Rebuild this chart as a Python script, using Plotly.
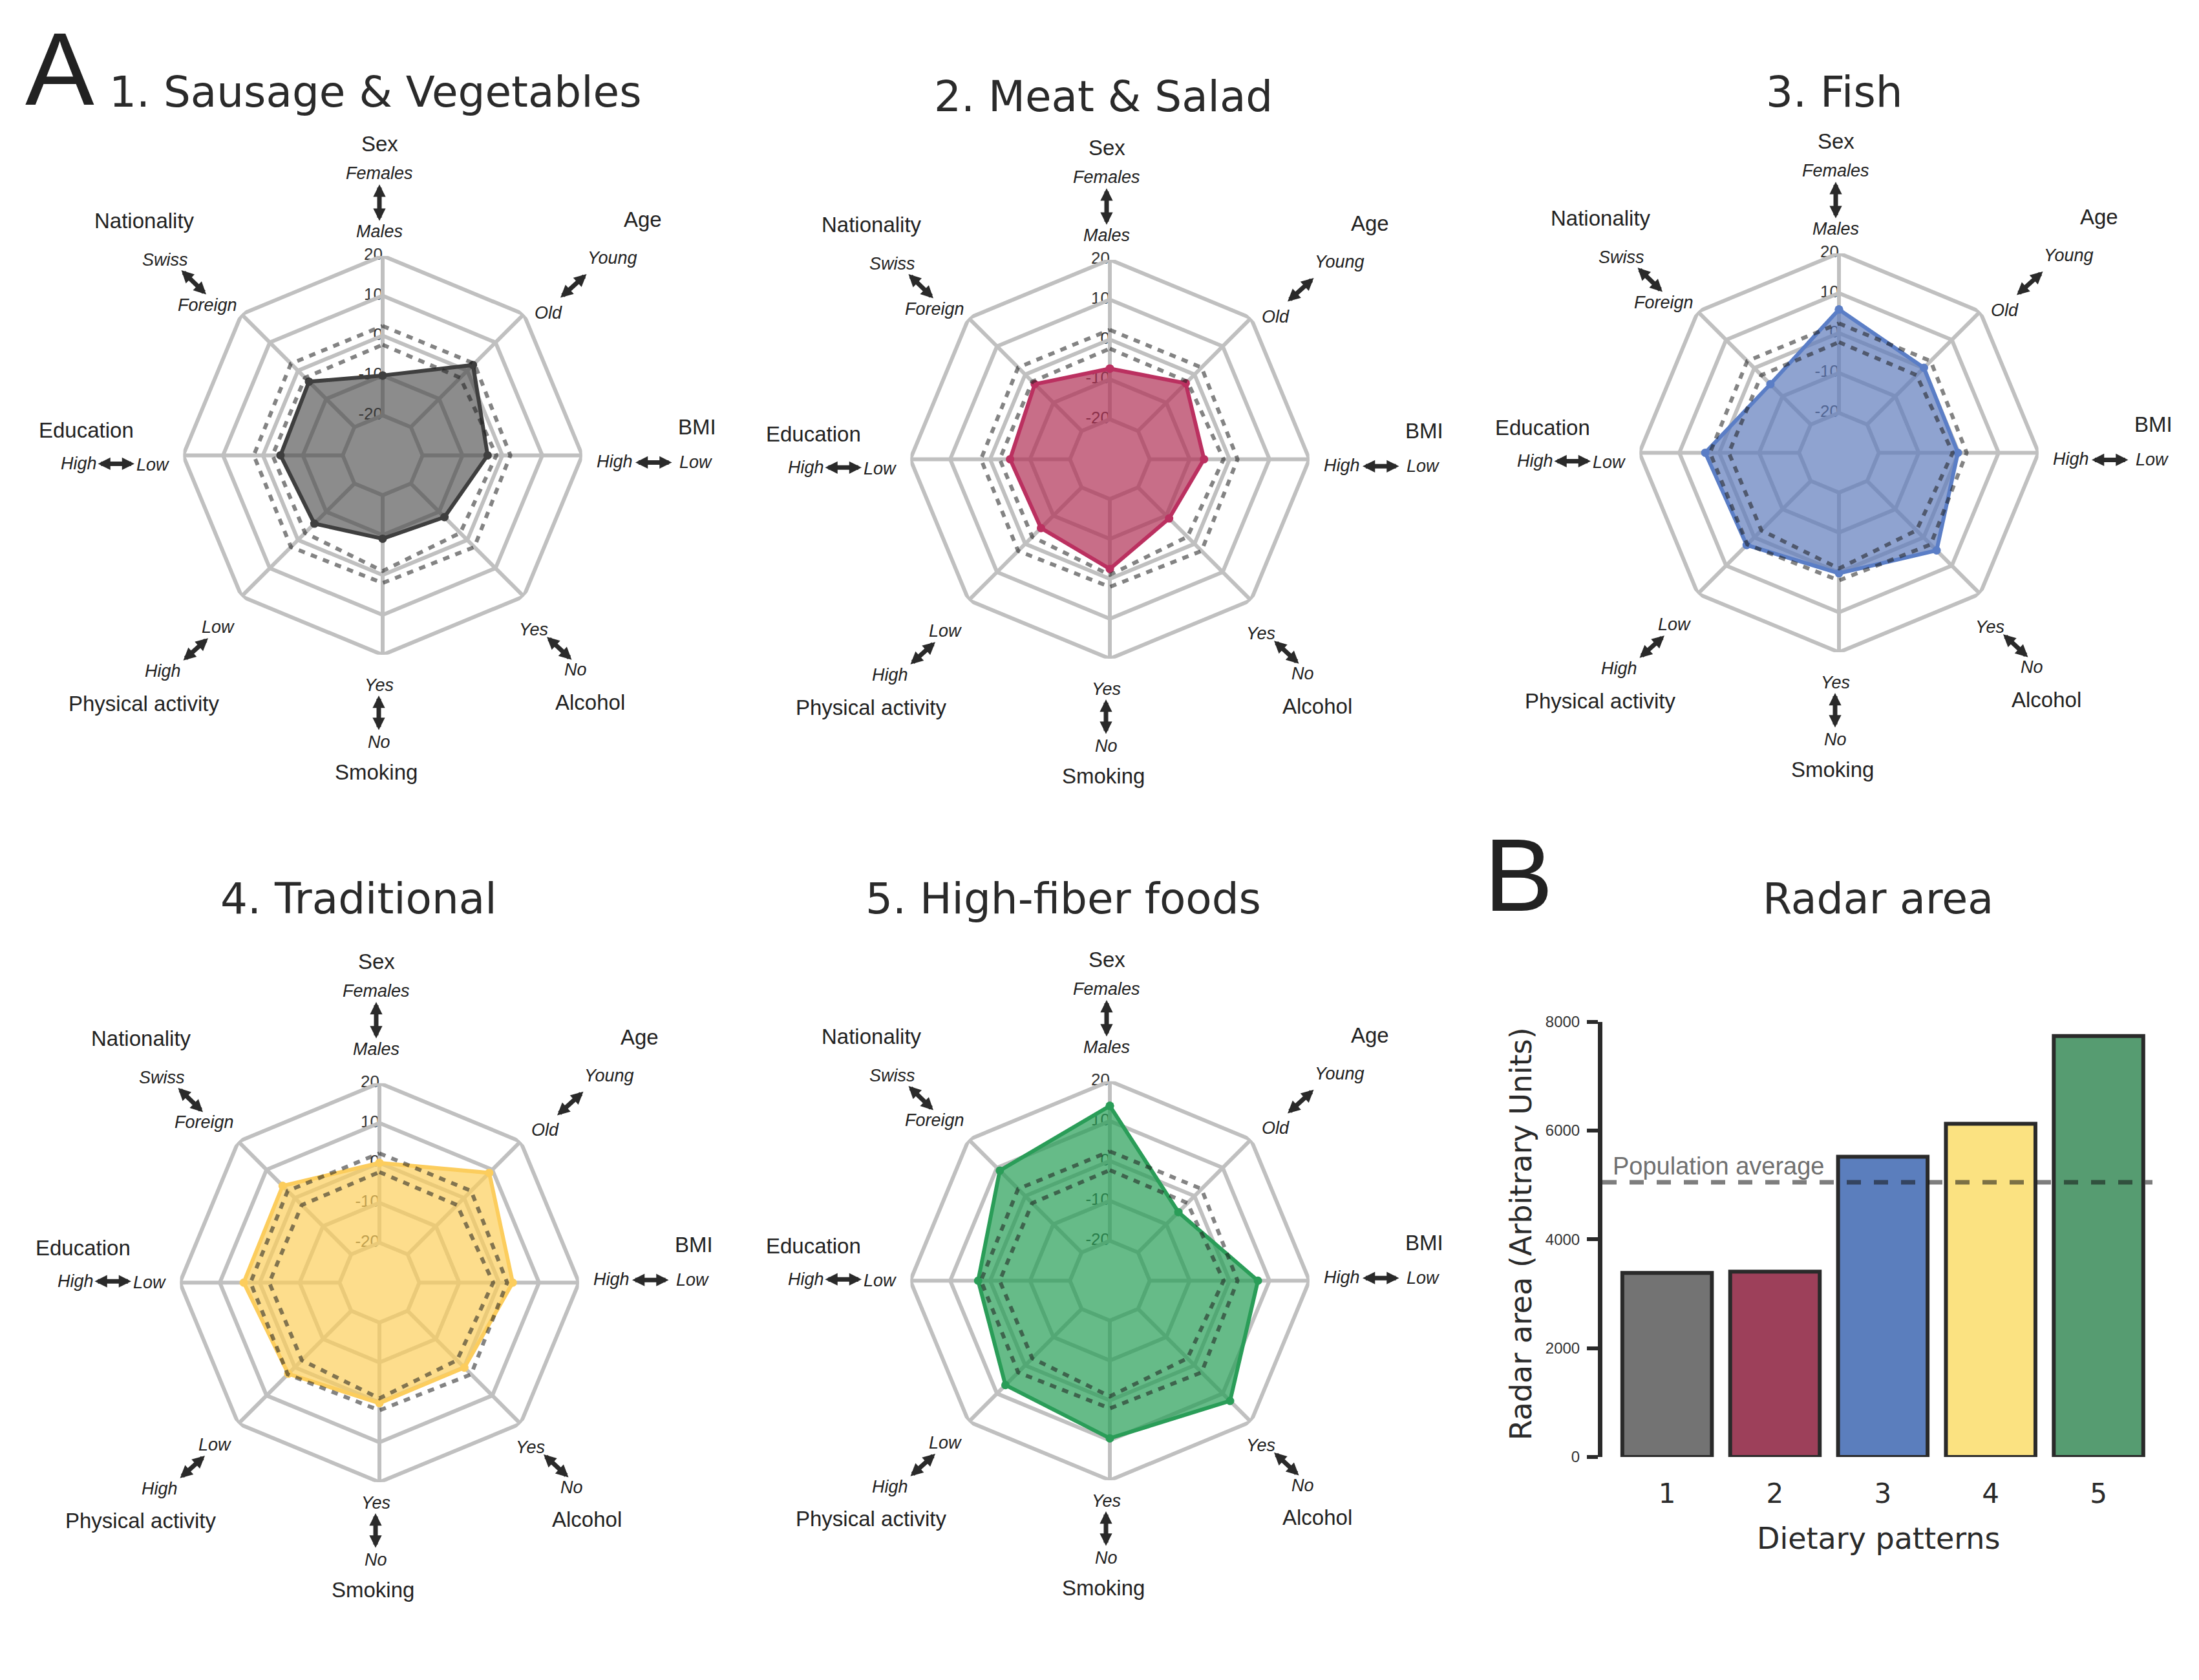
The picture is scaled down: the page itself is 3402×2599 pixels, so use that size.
import plotly.graph_objects as go

W, H = 3402, 2599

# ---------------- data ----------------
axes_names = ["Sex", "Age", "BMI", "Alcohol", "Smoking", "Physical activity", "Education", "Nationality"]
outer_pole = ["Females", "Young", "Low", "No", "No", "High", "High", "Swiss"]
inner_pole = ["Males", "Old", "High", "Yes", "Yes", "Low", "Low", "Foreign"]
pattern_titles = ["1. Sausage & Vegetables", "2. Meat & Salad", "3. Fish", "4. Traditional", "5. High-fiber foods"]

sausage_vegetables = [-10.0, 2.0, -3.7, -8.1, -9.1, -5.8, -4.4, -3.9]
meat_salad = [-7.3, -3.1, -6.4, -9.0, -2.5, -5.6, -5.0, -3.4]
fish = [5.9, 0.1, -0.2, 4.6, 0.2, 2.7, 3.5, -5.7]
traditional = [0.0, 8.9, 3.4, 0.1, 0.2, 2.3, 4.0, 4.3]
high_fiber = [13.8, -5.7, 7.1, 12.6, 9.5, 7.0, 3.0, 9.0]

population_upper = [2.4, 2.5, 2.0, 2.5, 2.0, 2.5, 2.3, 2.5]
population_lower = [-2.3, -2.5, -1.5, -2.5, -1.0, -2.5, -2.4, -2.5]

radial_ticks = [-20, -10, 0, 10, 20]
radial_ticklabels = ["-20", "-10", "0", "10", "20"]
radial_range = [-30, 20]

bar_categories = [1, 2, 3, 4, 5]
bar_ticklabels = ["1", "2", "3", "4", "5"]
radar_area = [3384, 3407, 5518, 6124, 7737]
population_average = 5050
bar_ticks = [0, 2000, 4000, 6000, 8000]

# ---------------- styles / layout ----------------
series = [sausage_vegetables, meat_salad, fish, traditional, high_fiber]
line_colors = ["#3f3f3f", "#bb3060", "#5b7ec6", "#fccd5d", "#2a9d58"]
fill_colors = ["rgba(63,63,63,0.60)", "rgba(176,48,85,0.70)", "rgba(95,124,188,0.70)",
               "rgba(252,206,91,0.70)", "rgba(37,158,85,0.70)"]
bar_colors = ["#737373", "#9d405a", "#5b7ebd", "#fbe281", "#569c71"]

# target positions (pixels in the final picture)
centers = [(592, 706), (1717, 712), (2845, 702), (587, 1987), (1717, 1984)]
label_dy_shift = [0, 0, 0, -15, -15]
R = 309
title_pos = [(581, 144), (1707, 151), (2838, 144), (555, 1393), (1645, 1393)]

label_layout = {
    "Sex": dict(title=(-5, -482), outer=(-5, -437), inner=(-5, -347), a0=(-5, -421), a1=(-5, -363)),
    "Age": dict(title=(402, -365), outer=(355, -306), inner=(256, -221), a0=(317, -282), a1=(275, -244)),
    "BMI": dict(title=(486, -44), outer=(484, 11), inner=(359, 10), a0=(449, 11), a1=(391, 11)),
    "Alcohol": dict(title=(321, 382), outer=(298, 332), inner=(233, 270), a0=(294, 318), a1=(254, 281)),
    "Smoking": dict(title=(-10, 491), outer=(-6, 444), inner=(-6, 356), a0=(-6, 427), a1=(-6, 372)),
    "Physical activity": dict(title=(-370, 384), outer=(-340, 334), inner=(-255, 266), a0=(-310, 319), a1=(-270, 283)),
    "Education": dict(title=(-459, -39), outer=(-470, 13), inner=(-356, 15), a0=(-442, 13), a1=(-384, 13)),
    "Nationality": dict(title=(-369, -363), outer=(-337, -303), inner=(-271, -233), a0=(-313, -288), a1=(-273, -249)),
}

SANS = "Liberation Sans, Arial, Helvetica, sans-serif"
DEJA = "DejaVu Sans, Verdana, sans-serif"
TXT = "#222222"

# compensation for page offset of the rendered picture
X_SHIFT = 8
Y_SHIFT = 23
Y_SCALE = 0.9905


def px(x):
    return (x - X_SHIFT) / W


def py(y):
    return 1 - ((y - Y_SHIFT) / Y_SCALE) / H


fig = go.Figure()
annotations = []
layout_extra = {}

closed_axes = axes_names + [axes_names[0]]

for i, vals in enumerate(series):
    sub = "polar" if i == 0 else f"polar{i + 1}"
    cx, cy = centers[i]

    # radial tick labels along the first axis (below everything)
    fig.add_trace(go.Scatterpolar(theta=[axes_names[0]] * len(radial_ticks), r=radial_ticks,
                                  text=radial_ticklabels, mode="text", textposition="middle left",
                                  textfont=dict(family=SANS, size=26, color="#333333"),
                                  subplot=sub, hoverinfo="skip", showlegend=False))
    # grid rings
    ring_t, ring_r = [], []
    for v in radial_ticks:
        ring_t += closed_axes + [None]
        ring_r += [v] * len(closed_axes) + [None]
    fig.add_trace(go.Scatterpolar(theta=ring_t, r=ring_r, mode="lines", subplot=sub,
                                  line=dict(color="#c0c0c0", width=6), hoverinfo="skip",
                                  showlegend=False))
    # spokes
    sp_t, sp_r = [], []
    for a in axes_names:
        sp_t += [a, a, None]
        sp_r += [radial_ticks[0], radial_ticks[-1], None]
    fig.add_trace(go.Scatterpolar(theta=sp_t, r=sp_r, mode="lines", subplot=sub,
                                  line=dict(color="#c0c0c0", width=6), hoverinfo="skip",
                                  showlegend=False))
    # data polygon
    fig.add_trace(go.Scatterpolar(theta=closed_axes, r=vals + [vals[0]], mode="lines+markers",
                                  subplot=sub, fill="toself", fillcolor=fill_colors[i],
                                  line=dict(color=line_colors[i], width=6),
                                  marker=dict(color=line_colors[i], size=13),
                                  showlegend=False))
    # population reference (dashed)
    for ref in (population_upper, population_lower):
        fig.add_trace(go.Scatterpolar(theta=closed_axes, r=ref + [ref[0]], mode="lines",
                                      subplot=sub,
                                      line=dict(color="rgba(30,30,30,0.55)", width=6, dash="10px,10px"),
                                      hoverinfo="skip", showlegend=False))

    Rd = R / Y_SCALE
    layout_extra[sub] = dict(
        domain=dict(x=[px(cx - Rd), px(cx + Rd)], y=[py(cy + R), py(cy - R)]),
        bgcolor="rgba(0,0,0,0)",
        radialaxis=dict(range=radial_range, showgrid=False, showline=False, showticklabels=False,
                        ticks=""),
        angularaxis=dict(type="category", categoryarray=axes_names, rotation=90, direction="clockwise",
                         showgrid=False, showline=False, showticklabels=False, ticks=""),
    )

    # title
    tx, ty = title_pos[i]
    annotations.append(dict(x=px(tx), y=py(ty), xref="paper", yref="paper", text=pattern_titles[i],
                            showarrow=False, xanchor="center", yanchor="middle",
                            font=dict(family=DEJA, size=66, color="#2a2a2a")))

    # axis labels + arrows
    ly = cy + label_dy_shift[i]
    for k, name in enumerate(axes_names):
        L = label_layout[name]
        annotations.append(dict(x=px(cx + L["title"][0]), y=py(ly + L["title"][1]), xref="paper", yref="paper",
                                text=name, showarrow=False, xanchor="center", yanchor="middle",
                                font=dict(family=SANS, size=33, color=TXT)))
        annotations.append(dict(x=px(cx + L["outer"][0]), y=py(ly + L["outer"][1]), xref="paper", yref="paper",
                                text=f"<i>{outer_pole[k]}</i>", showarrow=False, xanchor="center",
                                yanchor="middle", font=dict(family=SANS, size=27, color=TXT)))
        annotations.append(dict(x=px(cx + L["inner"][0]), y=py(ly + L["inner"][1]), xref="paper", yref="paper",
                                text=f"<i>{inner_pole[k]}</i>", showarrow=False, xanchor="center",
                                yanchor="middle", font=dict(family=SANS, size=27, color=TXT)))
        x0, y0 = L["a0"]
        x1, y1 = L["a1"]
        annotations.append(dict(x=px(cx + x1), y=py(ly + y1), xref="paper", yref="paper", text="",
                                showarrow=True, ax=x0 - x1, ay=y0 - y1, axref="pixel", ayref="pixel",
                                arrowhead=2, arrowsize=0.55, arrowwidth=7, arrowcolor="#2a2a2a",
                                arrowside="end+start", startarrowhead=2, startarrowsize=0.55,
                                standoff=0, startstandoff=0))

# ---------------- bar chart ----------------
fig.add_trace(go.Bar(x=bar_categories, y=radar_area, marker=dict(color=bar_colors,
                                                                 line=dict(color="#2a2a2a", width=6)),
                     width=0.83, xaxis="x", yaxis="y", showlegend=False))

bx0, bx1 = 2479, 3330
by0, by1 = 1583, 2257
fig.update_layout(
    xaxis=dict(domain=[px(bx0), px(bx1)], range=[0.4, 5.5], tickvals=bar_categories, ticktext=bar_ticklabels,
               showline=False, showgrid=False, zeroline=False, ticks="", ticklabelstandoff=28,
               tickfont=dict(family=DEJA, size=42, color="#2a2a2a")),
    yaxis=dict(domain=[py(by1), py(by0)], range=[0, 8000], tickvals=bar_ticks, showgrid=False, zeroline=False,
               showline=True, linewidth=7, linecolor="#2a2a2a", ticks="outside", ticklen=17, tickwidth=6,
               tickcolor="#2a2a2a", ticklabelstandoff=6,
               tickfont=dict(family=SANS, size=24, color="#333333")),
)

fig.add_shape(type="line", xref="x", yref="y", x0=0.4, x1=5.5, y0=population_average, y1=population_average,
              line=dict(color="rgba(20,20,20,0.55)", width=7, dash="22px,20px"), layer="above")

annotations += [
    dict(x=px(2493), y=py(1807), xref="paper", yref="paper", text="Population average", showarrow=False,
         xanchor="left", yanchor="middle", font=dict(family=SANS, size=38, color="#707070")),
    dict(x=px(2906), y=py(2383), xref="paper", yref="paper", text="Dietary patterns", showarrow=False,
         xanchor="center", yanchor="middle", font=dict(family=DEJA, size=46, color="#2a2a2a")),
    dict(x=px(2353), y=py(1912), xref="paper", yref="paper", text="Radar area (Arbitrary Units)",
         showarrow=False, textangle=-90, xanchor="center", yanchor="middle",
         font=dict(family=DEJA, size=46, color="#2a2a2a")),
    dict(x=px(2905), y=py(1393), xref="paper", yref="paper", text="Radar area", showarrow=False,
         xanchor="center", yanchor="middle", font=dict(family=DEJA, size=65, color="#2a2a2a")),
    dict(x=px(92), y=py(108), xref="paper", yref="paper", text="A", showarrow=False,
         xanchor="center", yanchor="middle", font=dict(family=SANS, size=160, color="#222222")),
    dict(x=px(2349), y=py(1356), xref="paper", yref="paper", text="B", showarrow=False,
         xanchor="center", yanchor="middle", font=dict(family=SANS, size=160, color="#222222")),
]

fig.update_layout(
    width=W, height=H, margin=dict(l=0, r=0, t=0, b=0),
    paper_bgcolor="white", plot_bgcolor="white",
    font=dict(family=SANS, color=TXT),
    annotations=annotations, showlegend=False,
    **layout_extra,
)

fig.write_html("out.html")
